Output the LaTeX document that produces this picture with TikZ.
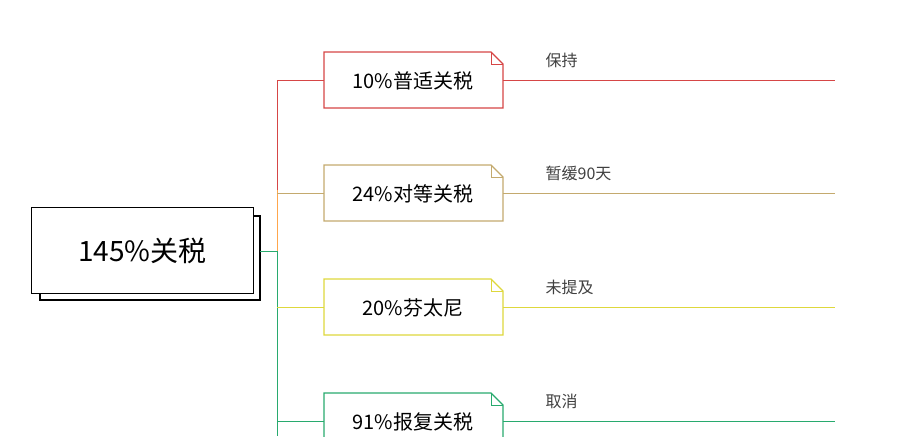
\documentclass[tikz,border=0pt]{standalone}
\usepackage{fontspec}
\setmainfont{Noto Sans CJK SC}
\definecolor{BranchRed}{RGB}{214, 70, 70}
\definecolor{BranchTan}{RGB}{196, 170, 110}
\definecolor{BranchYellow}{RGB}{222, 216, 60}
\definecolor{BranchGreen}{RGB}{40, 170, 110}
\usetikzlibrary{positioning, shapes.misc}
\begin{document}
\begin{tikzpicture}[x=0.75pt, y=-0.75pt]
        \tikzstyle{rootbox} = [rectangle, draw=black, fill=white, minimum width=166pt, minimum height=64pt, font=\fontsize{21}{24}\selectfont, line width=0.8pt]
        \tikzstyle{leaf} = [font=\fontsize{15}{18}\selectfont, anchor=center]
        \tikzstyle{note} = [font=\fontsize{12}{14}\selectfont, text=black!75, anchor=west]
        \tikzstyle{branch} = [line width=0.7pt]
        \useasboundingbox (0,0) rectangle (922,436);

        % Wurzel
        \draw [fill=white, line width=0.8pt] (40,216) rectangle (260,300);
        \node (root) [rootbox] at (142.5,250.5) {145\%关税};
        \coordinate (hub) at (277,251);
        \draw [branch, BranchGreen] (260,251) -- (hub);

        % Stamm
        \draw [branch, BranchRed] (277,80) -- (277,190);
        \draw [branch, orange!70] (277,190) -- (hub);
        \draw [branch, BranchGreen] (hub) -- (277,436);

        % Zweige
        \foreach \y/\col/\txt/\lab in {80/BranchRed/10\%普适关税/保持, 193/BranchTan/24\%对等关税/暂缓90天, 307/BranchYellow/20\%芬太尼/未提及, 421/BranchGreen/91\%报复关税/取消} {
            \draw [branch, \col] (277,\y) -- (324,\y);
            \draw [\col, fill=white, line width=0.8pt] (324,\y-28) -- (491,\y-28) -- (503,\y-16) -- (503,\y+28) -- (324,\y+28) -- cycle;
            \draw [\col, line width=0.6pt] (491,\y-28) -- (491,\y-16) -- (503,\y-16);
            \node [leaf] at (413,\y+1) {\txt};
            \draw [branch, \col] (503,\y) -- (835,\y);
            \node [note] at (541,\y-20) {\lab};
        }
    \end{tikzpicture}
\end{document}
